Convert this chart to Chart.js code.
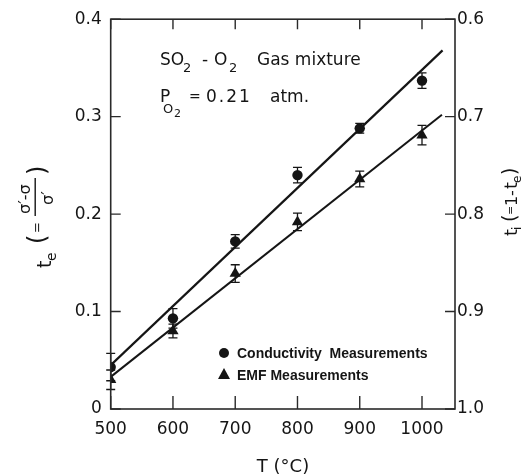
<!DOCTYPE html>
<html>
<head>
<meta charset="utf-8">
<script src="https://cdn.jsdelivr.net/npm/chart.js@4.4.1/dist/chart.umd.min.js"></script>
<style>
  html, body { margin: 0; padding: 0; background: #fff; }
  #wrap { width: 525px; height: 476px; position: relative; }
</style>
</head>
<body>
<div id="wrap"><canvas id="chart"></canvas></div>
<script>
// values
const TEMPS = [500, 600, 700, 800, 900, 1000];
const COND_TE = [0.043, 0.093, 0.172, 0.240, 0.288, 0.337];
const COND_ERR = [0.014, 0.010, 0.007, 0.008, 0.005, 0.008];
const EMF_TE = [0.030, 0.080, 0.139, 0.192, 0.236, 0.281];
const EMF_ERR = [0.010, 0.007, 0.009, 0.009, 0.008, 0.010];

// fitted straight lines (end points)
const COND_FIT_T = [500, 1033];
const COND_FIT_TE = [0.045, 0.368];
const EMF_FIT_T = [500, 1032];
const EMF_FIT_TE = [0.033, 0.302];

const X_TICKS = [500, 600, 700, 800, 900, 1000];
const TE_TICKS = [0, 0.1, 0.2, 0.3, 0.4];
const TI_TICKS = [0.6, 0.7, 0.8, 0.9, 1.0];

const LABELS = ['Conductivity  Measurements', 'EMF Measurements'];

const INK = '#151515';
const FONT = 'DejaVu Sans';

const pts = (xs, ys) => xs.map((x, i) => ({ x: x, y: ys[i] }));

function fixTicks(list) {
    return function (scale) { scale.ticks = list.map(v => ({ value: v })); };
}

function txt(ctx, s, x, y, size, weight, family) {
    ctx.font = (weight || 'normal') + ' ' + size + 'px "' + (family || FONT) + '"';
    ctx.fillText(s, x, y);
    return x + ctx.measureText(s).width;
}

const extras = {
    id: 'extras',
    afterDatasetsDraw(chart) {
        const ctx = chart.ctx;
        const x = chart.scales.x, y = chart.scales.y;
        ctx.save();
        ctx.strokeStyle = INK;
        ctx.lineWidth = 1.3;
        // error bars
        [[COND_TE, COND_ERR], [EMF_TE, EMF_ERR]].forEach(([vals, errs]) => {
            TEMPS.forEach((t, i) => {
                const px = x.getPixelForValue(t);
                const top = y.getPixelForValue(vals[i] + errs[i]);
                const bot = y.getPixelForValue(vals[i] - errs[i]);
                ctx.beginPath();
                ctx.moveTo(px, top); ctx.lineTo(px, bot);
                ctx.moveTo(px - 4.5, top); ctx.lineTo(px + 4.5, top);
                ctx.moveTo(px - 4.5, bot); ctx.lineTo(px + 4.5, bot);
                ctx.stroke();
            });
        });
        ctx.restore();
    },
    afterDraw(chart) {
        const ctx = chart.ctx;
        const a = chart.chartArea;
        const x = chart.scales.x, y = chart.scales.y, y2 = chart.scales.y2;
        ctx.save();
        // frame
        ctx.strokeStyle = '#2a2a2a';
        ctx.lineWidth = 1.6;
        ctx.strokeRect(a.left, a.top, a.right - a.left, a.bottom - a.top);
        // inward ticks
        ctx.lineWidth = 1.4;
        ctx.beginPath();
        X_TICKS.forEach(v => {
            const px = x.getPixelForValue(v);
            ctx.moveTo(px, a.bottom); ctx.lineTo(px, a.bottom - 13);
            ctx.moveTo(px, a.top); ctx.lineTo(px, a.top + 10);
        });
        TE_TICKS.forEach(v => {
            const py = y.getPixelForValue(v);
            ctx.moveTo(a.left, py); ctx.lineTo(a.left + 10, py);
        });
        TI_TICKS.forEach(v => {
            const py = y2.getPixelForValue(v);
            ctx.moveTo(a.right, py); ctx.lineTo(a.right - 10, py);
        });
        ctx.stroke();

        ctx.fillStyle = INK;
        ctx.textBaseline = 'alphabetic';
        ctx.textAlign = 'left';

        // annotation
        txt(ctx, 'SO', 160, 65, 17);
        txt(ctx, '2', 183, 72, 13);
        txt(ctx, '-', 202, 65, 17);
        txt(ctx, 'O', 214, 65, 17);
        txt(ctx, '2', 229, 72, 13);
        txt(ctx, 'Gas mixture', 257, 65, 17);
        txt(ctx, 'P', 160, 102, 17);
        txt(ctx, 'O', 163, 113, 13);
        txt(ctx, '2', 174, 117, 11);
        txt(ctx, '=', 189, 101, 14);
        ctx.letterSpacing = '2px';
        txt(ctx, '0.21', 206, 102, 17);
        ctx.letterSpacing = '0px';
        txt(ctx, 'atm.', 270, 102, 17);

        // legend
        ctx.beginPath();
        ctx.arc(224, 353, 5, 0, Math.PI * 2);
        ctx.fill();
        ctx.beginPath();
        ctx.moveTo(224, 368); ctx.lineTo(230, 379); ctx.lineTo(218, 379);
        ctx.closePath();
        ctx.fill();
        txt(ctx, LABELS[0], 237, 358, 14, 'bold', 'Liberation Sans');
        txt(ctx, LABELS[1], 237, 380, 14, 'bold', 'Liberation Sans');

        // x title
        ctx.textAlign = 'center';
        txt(ctx, 'T (°C)', 283, 472, 18);
        ctx.textAlign = 'left';

        // left title, rotated
        ctx.save();
        ctx.translate(51, 268);
        ctx.rotate(-Math.PI / 2);
        txt(ctx, 't', 0, 0, 19);
        txt(ctx, 'e', 7, 5, 14);
        txt(ctx, '(', 24, -6, 24);
        txt(ctx, '=', 35, -10, 13);
        txt(ctx, 'σ′-σ', 54, -21, 16);
        ctx.fillRect(52, -16.5, 38, 1.4);
        txt(ctx, 'σ′', 63, 2, 16);
        txt(ctx, ')', 93, -6, 24);
        ctx.restore();

        // right title, rotated
        ctx.save();
        ctx.translate(517, 236);
        ctx.rotate(-Math.PI / 2);
        txt(ctx, 't', 0, 0, 18);
        txt(ctx, 'i', 6, 4, 12);
        txt(ctx, '(', 14, -1, 19);
        txt(ctx, '=', 21, -3, 11);
        txt(ctx, '1', 30, 0, 16);
        txt(ctx, '-', 40, 0, 16);
        txt(ctx, 't', 47, 0, 18);
        txt(ctx, 'e', 53, 4, 12);
        txt(ctx, ')', 61, -1, 19);
        ctx.restore();

        ctx.restore();
    }
};

const tickFont = { family: FONT, size: 17 };

new Chart(document.getElementById('chart'), {
    type: 'scatter',
    data: {
        datasets: [
            { label: LABELS[0], data: pts(TEMPS, COND_TE), pointStyle: 'circle', pointRadius: 5.2,
              backgroundColor: INK, borderColor: INK, borderWidth: 0 },
            { label: LABELS[1], data: pts(TEMPS, EMF_TE), pointStyle: 'triangle', pointRadius: 6.5,
              backgroundColor: INK, borderColor: INK, borderWidth: 0 },
            { type: 'line', data: pts(COND_FIT_T, COND_FIT_TE), showLine: true, pointRadius: 0,
              borderColor: INK, borderWidth: 2.2, fill: false },
            { type: 'line', data: pts(EMF_FIT_T, EMF_FIT_TE), showLine: true, pointRadius: 0,
              borderColor: INK, borderWidth: 2.0, fill: false }
        ]
    },
    options: {
        responsive: true,
        maintainAspectRatio: false,
        animation: false,
        layout: { padding: { top: 15, left: 0, right: 0, bottom: 0 } },
        plugins: { legend: { display: false }, tooltip: { enabled: false } },
        scales: {
            x: {
                type: 'linear', min: 500, max: 1053,
                afterBuildTicks: fixTicks(X_TICKS),
                afterFit: s => { s.height = 67; },
                grid: { display: false, drawTicks: false },
                border: { display: false },
                ticks: { font: tickFont, color: INK, padding: 10, maxRotation: 0,
                         callback: v => String(v) }
            },
            y: {
                type: 'linear', position: 'left', min: 0, max: 0.4,
                afterBuildTicks: fixTicks(TE_TICKS),
                afterFit: s => { s.width = 110.7; },
                grid: { display: false, drawTicks: false },
                border: { display: false },
                ticks: { font: tickFont, color: INK, padding: 9,
                         callback: v => v === 0 ? '0' : v.toFixed(1) }
            },
            y2: {
                type: 'linear', position: 'right', min: 0.6, max: 1.0, reverse: true,
                afterBuildTicks: fixTicks(TI_TICKS),
                afterFit: s => { s.width = 70; },
                grid: { display: false, drawTicks: false },
                border: { display: false },
                ticks: { font: tickFont, color: INK, padding: 2,
                         callback: v => v.toFixed(1) }
            }
        }
    },
    plugins: [extras]
});
</script>
</body>
</html>
